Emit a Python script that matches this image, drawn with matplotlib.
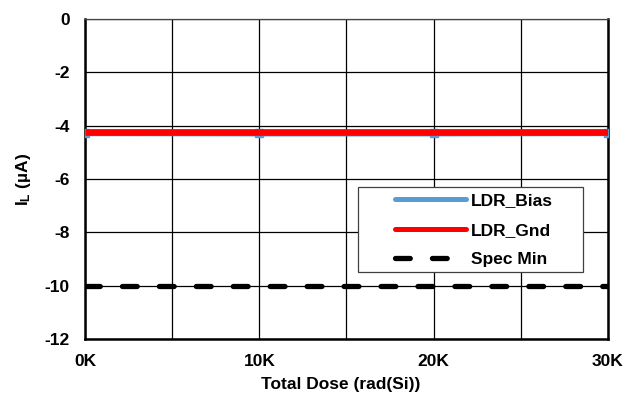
import matplotlib
matplotlib.use("Agg")
import matplotlib.pyplot as plt
from matplotlib.ticker import MultipleLocator, FuncFormatter
from matplotlib.patches import Rectangle
from matplotlib.lines import Line2D

dose = [0, 10000, 20000, 30000]
ldr_bias = [-4.27, -4.28, -4.28, -4.27]
ldr_gnd = [-4.23, -4.23, -4.23, -4.23]
spec_x = [0, 30000]
spec_min = [-10, -10]

plt.rcParams['font.family'] = ['Liberation Sans', 'DejaVu Sans']
plt.rcParams['font.weight'] = 'bold'
plt.rcParams['axes.unicode_minus'] = False
plt.rcParams['mathtext.fontset'] = 'custom'
plt.rcParams['mathtext.rm'] = 'Liberation Sans:bold'
plt.rcParams['mathtext.bf'] = 'Liberation Sans:bold'
plt.rcParams['mathtext.it'] = 'Liberation Sans:bold'

FS = 12.5
fig = plt.figure(figsize=(6.38, 3.94), dpi=100)
ax = fig.add_axes([0.1332, 0.1396, 0.8198, 0.8122])

blue, = ax.plot(dose, ldr_bias, color='#5B9BD5', lw=4.8, marker='s', ms=6, mec='#5B9BD5',
                label='LDR_Bias', solid_capstyle='butt', zorder=3)
red, = ax.plot(dose, ldr_gnd, color='#FF0000', lw=4.8, label='LDR_Gnd',
               solid_capstyle='butt', zorder=4)
spec, = ax.plot(spec_x, spec_min, color='black', lw=3.8, ls=(0, (2.8, 4.2)),
                dash_capstyle='round', label='Spec Min', zorder=5)

ax.set_xlim(0, 30000)
ax.set_ylim(-12, 0)
ax.xaxis.set_major_locator(MultipleLocator(10000))
ax.xaxis.set_minor_locator(MultipleLocator(5000))
ax.yaxis.set_major_locator(MultipleLocator(2))
ax.xaxis.set_major_formatter(FuncFormatter(lambda v, p: f"{int(v/1000)}K"))
ax.grid(True, which='both', color='black', lw=0.9)
ax.tick_params(which='both', length=0, labelsize=FS)
ax.tick_params(axis='x', pad=11)
ax.tick_params(axis='y', pad=11)
for lab in ax.get_xticklabels() + ax.get_yticklabels():
    lab.set_fontweight('bold')
for s in ['left', 'bottom', 'right']:
    ax.spines[s].set_linewidth(1.8)
ax.spines['top'].set_linewidth(0.9)
ax.spines['top'].set_color('#444444')
ax.set_axisbelow(True)

ax.set_xlabel('Total Dose (rad(Si))', fontsize=FS, fontweight='bold')
ax.xaxis.set_label_coords(0.488, -0.118)
ax.xaxis.label.set_va('top')
ax.set_ylabel(r'$\mathbf{I_L}$ (µA)', fontsize=FS, fontweight='bold')
ax.yaxis.set_label_coords(-0.1, 0.5)

# legend frame
ax.add_patch(Rectangle((0.522, 0.209), 0.431, 0.266, transform=ax.transAxes,
                       facecolor='white', edgecolor='#404040', lw=0.9, zorder=6))

h_blue = Line2D([], [], color='#5B9BD5', lw=3.6, solid_capstyle='round')
h_red = Line2D([], [], color='#FF0000', lw=3.6, solid_capstyle='round')
h_spec = Line2D([], [], color='black', lw=3.8, ls=(0, (2.8, 4.2)), dash_capstyle='round')
leg = ax.legend([h_blue, h_red, h_spec], [blue.get_label(), red.get_label(), spec.get_label()],
                loc='center left', bbox_to_anchor=(0.5927, 0.3406), fontsize=FS,
                frameon=False, handlelength=4.08, handletextpad=0.27,
                borderpad=0, borderaxespad=0, labelspacing=0.82)
leg.set_zorder(7)
for t in leg.get_texts():
    t.set_fontweight('bold')

fig.savefig('out.png', dpi=100)
